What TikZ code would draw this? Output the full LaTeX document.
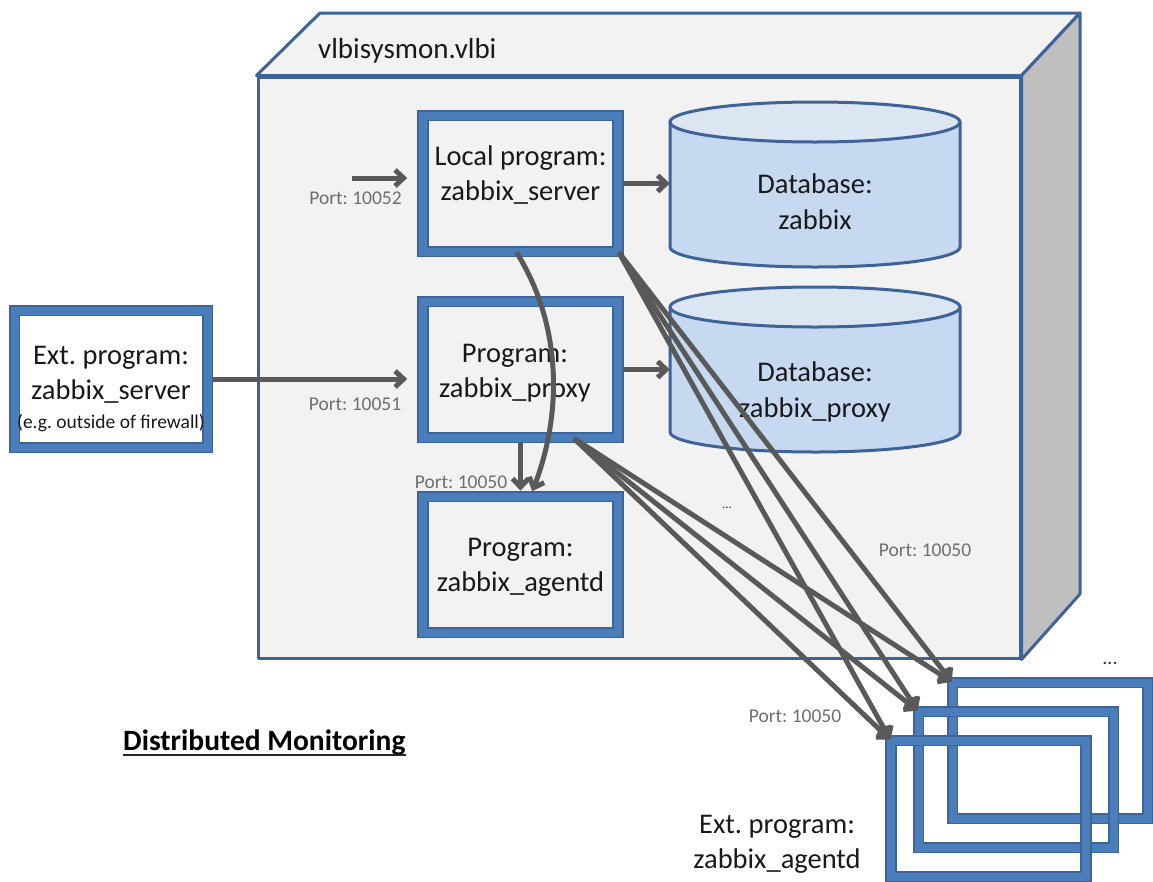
\documentclass[tikz,border=0pt]{standalone}
\usepackage{fontspec}
\setmainfont{Carlito}
\frenchspacing
\usetikzlibrary{arrows.meta}
\definecolor{bgface}{HTML}{F2F2F2}
\definecolor{sideface}{HTML}{BFBFBF}
\definecolor{edgeblue}{HTML}{3D6399}
\definecolor{boxblue}{HTML}{4A7EBB}
\definecolor{dbbody}{HTML}{C6D9F1}
\definecolor{dbtop}{HTML}{DCE6F3}
\definecolor{arrowgray}{HTML}{595959}
\definecolor{portgray}{HTML}{6E6E6E}
\tikzset{
  progbox/.style={rectangle, draw=edgeblue, double=boxblue, double distance=8pt, line width=1.6pt, minimum width=195pt, minimum height=136pt, inner sep=0pt},
  boxtext/.style={font=\fontsize{28.5}{35}\selectfont, align=center, text=black!90, inner sep=0pt},
  dbtext/.style={font=\fontsize{28.5}{36}\selectfont, align=center, text=black!90, inner sep=0pt},
  porttext/.style={font=\fontsize{19.5}{22}\selectfont, text=portgray, inner sep=0pt, anchor=base},
  dotstext/.style={text=black!80, inner sep=0pt, anchor=base},
  arr/.style={draw=arrowgray, line width=5pt, -{Straight Barb[length=8.5pt,width=16pt]}},
  facestyle/.style={draw=edgeblue, line width=3pt, line join=round},
  dbline/.style={draw=edgeblue, line width=3pt},
  dbbox/.style={rectangle, minimum width=290pt, inner sep=0pt},
}
\begin{document}
\begin{tikzpicture}[x=1pt,y=-1pt]
\useasboundingbox (0,0) rectangle (1153,881);

% server cube
\node[facestyle, fill=bgface, minimum width=762pt, minimum height=581pt, inner sep=0pt] (srv) at (639,367.5) {};
\filldraw[facestyle, fill=bgface] (srv.north west) -- (320,13) -- (1080,13) -- (srv.north east) -- cycle;
\filldraw[facestyle, fill=sideface] (srv.north east) -- (1080,13) -- (1080,594) -- (srv.south east) -- cycle;
\node[boxtext, anchor=base west, font=\fontsize{29}{35}\selectfont] (title) at (318,58) {vlbisysmon.vlbi};

% databases
\node[dbbox, minimum height=165pt] (dbz) at (815,184.5) {};
\fill[dbbody] (670,122) -- (670,247) arc[start angle=180, end angle=0, x radius=145, y radius=20] -- (960,122) -- cycle;
\draw[dbline] (670,122) -- (670,247) arc[start angle=180, end angle=0, x radius=145, y radius=20] -- (960,122);
\filldraw[dbline, fill=dbtop] (815,122) ellipse [x radius=145, y radius=20];
\node[dbtext] (dbztxt) at (815,202) {Database:\\zabbix};

\node[dbbox, minimum height=165pt] (dbp) at (815,369.5) {};
\fill[dbbody] (670,307) -- (670,432) arc[start angle=180, end angle=0, x radius=145, y radius=20] -- (960,307) -- cycle;
\draw[dbline] (670,307) -- (670,432) arc[start angle=180, end angle=0, x radius=145, y radius=20] -- (960,307);
\filldraw[dbline, fill=dbtop] (815,307) ellipse [x radius=145, y radius=20];
\node[dbtext] (dbptxt) at (815,391.5) {Database:\\zabbix\_proxy};

% program boxes
\node[progbox] (local) at (520.5,183.5) {};
\node[boxtext] (localtxt) at (520.5,175) {Local program:\\zabbix\_server};
\node[progbox] (proxy) at (520.5,369.5) {};
\node[boxtext] (proxytxt) at (515,373) {Program:\\zabbix\_proxy};
\node[progbox] (agent) at (520.5,564.5) {};
\node[boxtext] (agenttxt) at (520.5,567) {Program:\\zabbix\_agentd};

% external server
\node[progbox, minimum width=193pt, minimum height=137pt] (extsrv) at (111,379) {};
\node[boxtext] (extsrvtxt) at (111,375) {Ext. program:\\zabbix\_server};
\node[boxtext, anchor=base, font=\fontsize{19.5}{22}\selectfont] (extsrvnote) at (111,428) {(e.g. outside of firewall)};

% external agents
\node[progbox] (xa3) at (1050,750.5) {};
\node[progbox] (xa2) at (1016,779.5) {};
\node[progbox] (xa1) at (988.5,808.5) {};
\node[boxtext] (xatxt) at (777,844) {Ext. program:\\zabbix\_agentd};

% labels
\node[porttext] (p52lbl) at (355.5,204) {Port: 10052};
\node[porttext] (p51lbl) at (355,410) {Port: 10051};
\node[porttext] (p50a) at (461,488) {Port: 10050};
\node[porttext] (p50b) at (925,556) {Port: 10050};
\node[porttext] (p50c) at (795,722) {Port: 10050};
\node[dotstext, font=\fontsize{13}{15}\selectfont] (dots1) at (727,508) {...};
\node[dotstext, font=\fontsize{20}{22}\selectfont] (dots2) at (1110,664) {...};
\node[inner sep=0pt, anchor=base west, font=\bfseries\fontsize{29.5}{34}\selectfont] (dm) at (123,750) {Distributed Monitoring};
\draw[line width=2pt, black!85] ([yshift=-5pt]dm.base west) -- ([yshift=-5pt]dm.base east);

% connectors
\coordinate (p52) at (352,178);
\draw[arr, shorten >=15pt] (p52) -- (p52 -| local.west);
\draw[arr, shorten <=5pt] (local.east) -- (local.east -| dbz.west);
\draw[arr, shorten <=5pt, shorten >=15pt] (extsrv.east) -- (extsrv.east -| proxy.west);
\draw[arr, shorten <=5pt] (proxy.east) -- (proxy.east -| dbp.west);
\draw[arr, shorten <=5pt, shorten >=5pt] (proxy.south) -- (agent.north);
\draw[arr, shorten >=5pt] ([xshift=-4pt]local.south) .. controls (565,330) and (560,420) .. ([xshift=10pt]agent.north);
\foreach \t in {xa1,xa2,xa3}{
  \draw[arr] (local.south east) -- (\t.north west);
  \draw[arr] ([xshift=-45pt]proxy.south east) -- (\t.north west);
}
\end{tikzpicture}
\end{document}
